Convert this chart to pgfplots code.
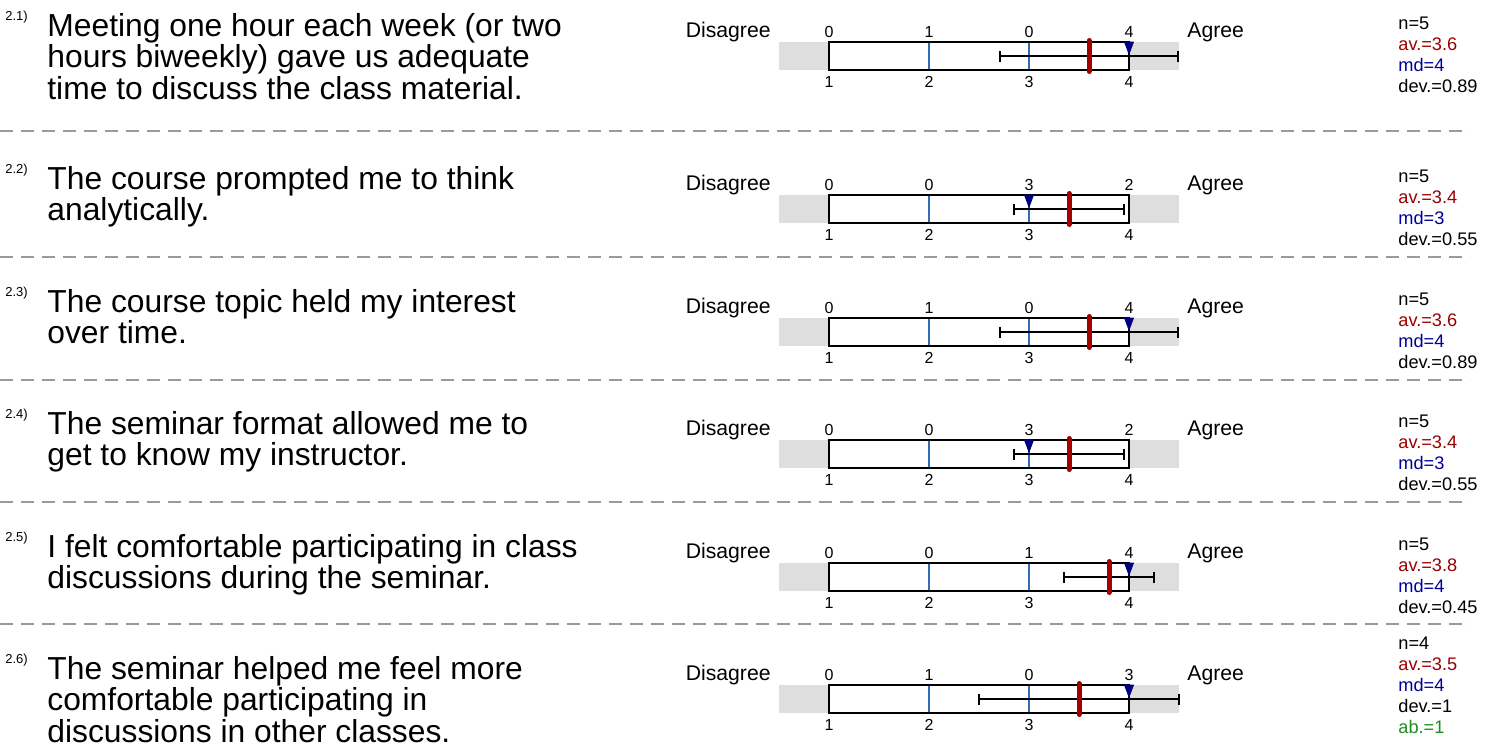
\documentclass[border=0pt]{standalone}
\usepackage{pgfplots}
\usepackage{pgfplotstable}
\usepackage{fontspec}
\setmainfont{Liberation Sans}
\pgfplotsset{compat=1.18}

\definecolor{bandgray}{HTML}{DEDEDE}
\definecolor{tickblue}{HTML}{2F6DB5}
\definecolor{meanred}{HTML}{A50000}
\definecolor{mednavy}{HTML}{000080}
\definecolor{avtext}{HTML}{990000}
\definecolor{mdtext}{HTML}{000099}
\definecolor{abgreen}{HTML}{1E8C1E}
\definecolor{sepgray}{HTML}{9A9A9A}

% top = pixel row of the box top, c1..c4 = answers per scale point
\pgfplotstableread{
top n c1 c2 c3 c4 av md dev
42  5 0 1 0 4 3.6 4 0.89
195 5 0 0 3 2 3.4 3 0.55
318 5 0 1 0 4 3.6 4 0.89
440 5 0 0 3 2 3.4 3 0.55
563 5 0 0 1 4 3.8 4 0.45
685 4 0 1 0 3 3.5 4 1
}\stats

\newcommand\qfont{\fontsize{15.9}{15.9}\selectfont}
\newcommand\nfont{\fontsize{6.5}{6.5}\selectfont}
\newcommand\lfont{\fontsize{10.6}{10.6}\selectfont}
\newcommand\sfont{\fontsize{9.1}{9.1}\selectfont}
\newcommand\cfont{\fontsize{8}{8}\selectfont}

% band, box and inner lines of one scale, #1 = box top
\newcommand\scalerow[1]{%
  \pgfmathsetmacro\bot{#1+28}%
  \edef\tmp{%
    \noexpand\addplot[fill=bandgray, draw=none] coordinates {(0.5,#1) (4.5,#1) (4.5,\bot) (0.5,\bot)} -- cycle;
    \noexpand\addplot[fill=white, draw=none] coordinates {(1,#1) (4,#1) (4,\bot) (1,\bot)} -- cycle;
    \noexpand\addplot[tickblue, line width=0.6pt] coordinates {(2,#1) (2,\bot)};
    \noexpand\addplot[tickblue, line width=0.6pt] coordinates {(3,#1) (3,\bot)};
    \noexpand\addplot[draw=black, line width=0.7pt] coordinates {(1,#1) (4,#1) (4,\bot) (1,\bot)} -- cycle;
  }\tmp}

% row labels, #1 = box top, #2 = number
\newcommand\rowlabels[2]{%
  \node[anchor=base west, font=\nfont, inner sep=0pt] at (axis cs:-7.24,{#1-22}) {#2};
  \node[anchor=base east, font=\lfont, inner sep=0pt] at (axis cs:0.42,{#1-5}) {Disagree};
  \node[anchor=base west, font=\lfont, inner sep=0pt] at (axis cs:4.58,{#1-5}) {Agree};
}
% one line of a question, #1 = box top, #2 = line index
\newcommand\qline[3]{%
  \node[anchor=base west, font=\qfont, inner sep=0pt] at (axis cs:-6.82,{#1-6+31.5*#2}) {#3};
}

% statistics block, #1 = first baseline
\newcommand\statblock[5]{%
  \node[anchor=base west, font=\sfont, inner sep=0pt] at (axis cs:6.69,#1) {n=#2};
  \node[anchor=base west, font=\sfont, inner sep=0pt, text=avtext] at (axis cs:6.69,{#1+21}) {av.=#3};
  \node[anchor=base west, font=\sfont, inner sep=0pt, text=mdtext] at (axis cs:6.69,{#1+42}) {md=#4};
  \node[anchor=base west, font=\sfont, inner sep=0pt] at (axis cs:6.69,{#1+63}) {dev.=#5};
}

\begin{document}
\begin{tikzpicture}
\begin{axis}[
  scale only axis,
  width=748.5pt, height=373pt,
  xmin=-7.29, xmax=7.68,
  ymin=0, ymax=746,
  y dir=reverse,
  hide axis,
  clip=false,
]
% dashed separators
\pgfplotsinvokeforeach{131,257,380,502,624}{
  \addplot[sepgray, line width=0.6pt, dash pattern=on 6.5pt off 4pt] coordinates {(-7.29,#1) (7.41,#1)};
}

\scalerow{42}
\scalerow{195}
\scalerow{318}
\scalerow{440}
\scalerow{563}
\scalerow{685}

% spread of the answers: mean +- deviation
\addplot[draw=none, mark=none,
  error bars/.cd, x dir=both, x explicit,
  error mark=|,
  error bar style={draw=black, line width=1pt},
  error mark options={draw=black, line width=1pt, mark size=2.75pt}]
  table[x=av, y expr=\thisrow{top}+14, x error=dev] {\stats};

% median
\addplot[only marks, mark=triangle*, mark size=4pt, color=mednavy,
  mark options={rotate=180, xscale=0.65}]
  table[x=md, y expr=\thisrow{top}+4] {\stats};

% mean
\addplot[only marks, mark=|, mark size=7.75pt, color=meanred,
  mark options={line width=2.5pt, line cap=round}]
  table[x=av, y expr=\thisrow{top}+14] {\stats};

% answer counts above, scale values below
\pgfplotsinvokeforeach{1,2,3,4}{
  \addplot[only marks, mark=none, nodes near coords, point meta=explicit symbolic,
    nodes near coords style={anchor=base, font=\cfont, inner sep=0pt}]
    table[x expr=#1, y expr=\thisrow{top}-5, meta=c#1] {\stats};
  \addplot[only marks, mark=none, nodes near coords={#1},
    nodes near coords style={anchor=base, font=\cfont, inner sep=0pt}]
    table[x expr=#1, y expr=\thisrow{top}+45] {\stats};
}

\rowlabels{42}{2.1)}
\qline{42}{0}{Meeting one hour each week (or two}
\qline{42}{1}{hours biweekly) gave us adequate}
\qline{42}{2}{time to discuss the class material.}
\rowlabels{195}{2.2)}
\qline{195}{0}{The course prompted me to think}
\qline{195}{1}{analytically.}
\rowlabels{318}{2.3)}
\qline{318}{0}{The course topic held my interest}
\qline{318}{1}{over time.}
\rowlabels{440}{2.4)}
\qline{440}{0}{The seminar format allowed me to}
\qline{440}{1}{get to know my instructor.}
\rowlabels{563}{2.5)}
\qline{563}{0}{I felt comfortable participating in class}
\qline{563}{1}{discussions during the seminar.}
\rowlabels{685}{2.6)}
\qline{685}{0}{The seminar helped me feel more}
\qline{685}{1}{comfortable participating in}
\qline{685}{2}{discussions in other classes.}

\statblock{29}{5}{3.6}{4}{0.89}
\statblock{182}{5}{3.4}{3}{0.55}
\statblock{305}{5}{3.6}{4}{0.89}
\statblock{427}{5}{3.4}{3}{0.55}
\statblock{550}{5}{3.8}{4}{0.45}
\statblock{649}{4}{3.5}{4}{1}
\node[anchor=base west, font=\sfont, inner sep=0pt, text=abgreen] at (axis cs:6.69,733) {ab.=1};
\end{axis}
\pgfresetboundingbox
\path[use as bounding box] (current axis.south west) rectangle (current axis.north east);
\end{tikzpicture}
\end{document}
